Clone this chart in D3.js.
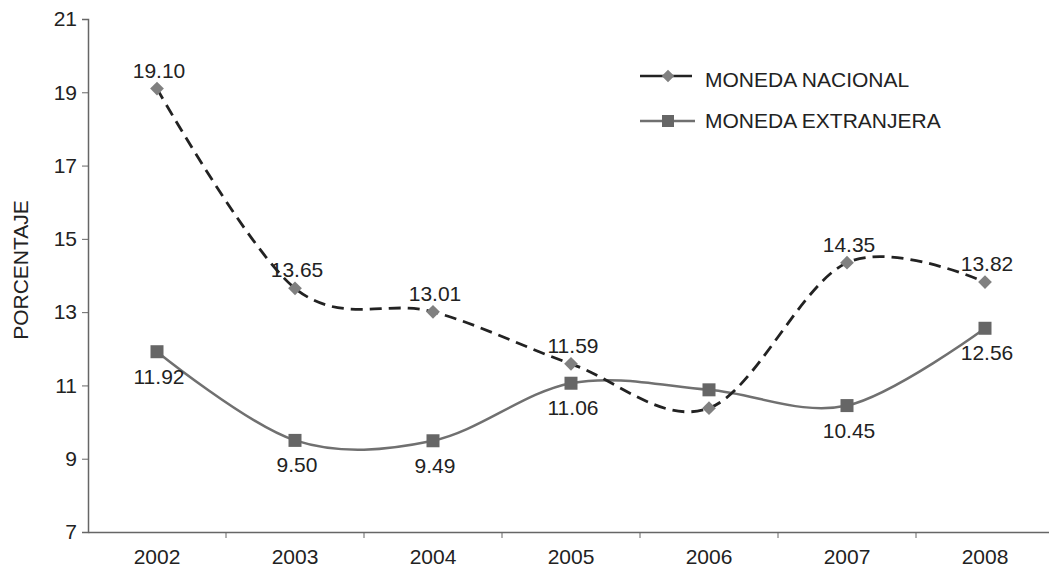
<!DOCTYPE html>
<html>
<head>
<meta charset="utf-8">
<script src="https://cdn.jsdelivr.net/npm/d3@7"></script>
<style>
  body { margin: 0; background: #fff; }
  text { font-family: "Liberation Sans", Arial, sans-serif; fill: #222; }
</style>
</head>
<body>
<div id="chart"></div>
<script>
// years and the two rate series (percent)
const years = ['2002', '2003', '2004', '2005', '2006', '2007', '2008'];
const nacional = [19.10, 13.65, 13.01, 11.59, 10.38, 14.35, 13.82];
const extranjera = [11.92, 9.50, 9.49, 11.06, 10.88, 10.45, 12.56];
// which points get a value label (2006 has none)
const showLabel = [true, true, true, true, false, true, true];
const yTicks = [7, 9, 11, 13, 15, 17, 19, 21];

const svgWidth = 1049;
const svgHeight = 569;
const fontSize = '21px';

const svg = d3.select('#chart')
    .append('svg')
    .attr('width', svgWidth)
    .attr('height', svgHeight);

const xScale = d3.scaleBand()
    .domain(years)
    .range([88, 1054])
    .padding(0);
const yScale = d3.scaleLinear()
    .domain([7, 21])
    .range([532, 19]);
const cx = d => xScale(d) + xScale.bandwidth() / 2;

// y axis
const yAxis = svg.append('g')
    .attr('transform', 'translate(88,0)')
    .call(d3.axisLeft(yScale).tickValues(yTicks).tickSize(6).tickPadding(5));
yAxis.select('.domain').attr('stroke', '#666').attr('stroke-width', 1.5);
yAxis.selectAll('.tick line').attr('stroke', '#666');
yAxis.selectAll('text').style('font-size', fontSize).attr('fill', '#222');

// x axis: labels at band centres, ticks at band edges
const xAxis = svg.append('g')
    .attr('transform', 'translate(0,532)')
    .call(d3.axisBottom(xScale).tickSize(0).tickPadding(17));
xAxis.select('.domain').attr('stroke', '#666').attr('stroke-width', 1.5);
xAxis.selectAll('text').style('font-size', fontSize).attr('fill', '#222');
svg.append('g')
    .selectAll('line')
    .data(years.slice(1))
    .enter()
    .append('line')
    .attr('x1', d => xScale(d))
    .attr('x2', d => xScale(d))
    .attr('y1', 532)
    .attr('y2', 538)
    .attr('stroke', '#666');

svg.append('text')
    .attr('transform', 'translate(28,270) rotate(-90)')
    .attr('text-anchor', 'middle')
    .style('font-size', fontSize)
    .text('PORCENTAJE');

const line = d3.line()
    .x((d, i) => cx(years[i]))
    .y(d => yScale(d))
    .curve(d3.curveCardinal.tension(0));

// moneda extranjera: solid grey line with squares
svg.append('path')
    .datum(extranjera)
    .attr('d', line)
    .attr('fill', 'none')
    .attr('stroke', '#707070')
    .attr('stroke-width', 2.5);
svg.append('g')
    .selectAll('rect')
    .data(extranjera)
    .enter()
    .append('rect')
    .attr('x', (d, i) => cx(years[i]) - 6.5)
    .attr('y', d => yScale(d) - 6.5)
    .attr('width', 13)
    .attr('height', 13)
    .attr('fill', '#666');

// moneda nacional: dashed black line with diamonds
svg.append('path')
    .datum(nacional)
    .attr('d', line)
    .attr('fill', 'none')
    .attr('stroke', '#222')
    .attr('stroke-width', 2.8)
    .attr('stroke-dasharray', '12,7');
svg.append('g')
    .selectAll('path')
    .data(nacional)
    .enter()
    .append('path')
    .attr('d', d3.symbol().type(d3.symbolDiamond2).size(120))
    .attr('transform', (d, i) => `translate(${cx(years[i])},${yScale(d)})`)
    .attr('fill', '#808080');

// value labels
const labelled = (series) => series
    .map((v, i) => ({ v: v, year: years[i] }))
    .filter((d, i) => showLabel[i]);

svg.append('g')
    .selectAll('text')
    .data(labelled(nacional))
    .enter()
    .append('text')
    .attr('x', d => cx(d.year) + 2)
    .attr('y', d => yScale(d.v) - 11)
    .attr('text-anchor', 'middle')
    .style('font-size', fontSize)
    .text(d => d.v.toFixed(2));
svg.append('g')
    .selectAll('text')
    .data(labelled(extranjera))
    .enter()
    .append('text')
    .attr('x', d => cx(d.year) + 2)
    .attr('y', d => yScale(d.v) + 32)
    .attr('text-anchor', 'middle')
    .style('font-size', fontSize)
    .text(d => d.v.toFixed(2));

// legend
const legend = svg.append('g').attr('transform', 'translate(640,0)');
legend.append('line')
    .attr('x1', 0).attr('x2', 52).attr('y1', 76).attr('y2', 76)
    .attr('stroke', '#222').attr('stroke-width', 2.5);
legend.append('path')
    .attr('d', d3.symbol().type(d3.symbolDiamond2).size(100))
    .attr('transform', 'translate(28,76)')
    .attr('fill', '#808080');
legend.append('text')
    .attr('x', 65).attr('y', 87)
    .style('font-size', fontSize)
    .text('MONEDA NACIONAL');
legend.append('line')
    .attr('x1', 0).attr('x2', 55).attr('y1', 121).attr('y2', 121)
    .attr('stroke', '#707070').attr('stroke-width', 2.5);
legend.append('rect')
    .attr('x', 22).attr('y', 115).attr('width', 12).attr('height', 12)
    .attr('fill', '#666');
legend.append('text')
    .attr('x', 65).attr('y', 128)
    .style('font-size', fontSize)
    .text('MONEDA EXTRANJERA');
</script>
</body>
</html>
